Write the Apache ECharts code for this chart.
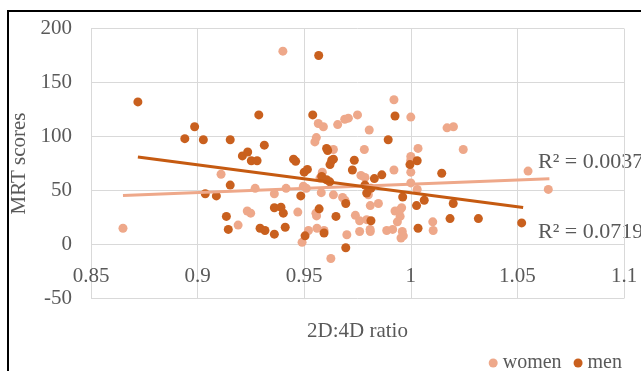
<!DOCTYPE html>
<html>
<head>
<meta charset="utf-8">
<script src="https://cdn.jsdelivr.net/npm/echarts@6/dist/echarts.min.js"></script>
<style>
  html, body { margin: 0; padding: 0; background: #fff; }
  #chart { width: 641px; height: 371px; }
</style>
</head>
<body>
<div id="chart"></div>
<script>
// values
const womenX = [0.865, 0.911, 0.919, 0.940, 0.9566, 0.955, 0.9557, 0.927, 0.936, 0.9415,
  0.951, 0.9233, 0.9249, 0.947, 0.949, 0.952, 0.956, 0.959, 0.9657, 0.969,
  0.9707, 0.975, 0.9805, 0.9782, 0.9637, 0.9766, 0.9785, 0.9585, 0.958, 0.9637,
  0.968, 0.9848, 0.981, 0.974, 0.976, 0.9593, 0.970, 0.976, 0.981, 0.9887,
  0.9625, 0.9921, 1.0, 1.017, 1.020, 1.0246, 1.0034, 1.0, 1.0, 0.9921,
  1.0, 1.0, 1.003, 0.9926, 0.9957, 0.995, 0.9937, 1.0103, 1.0105, 0.9915,
  0.996, 0.9965, 1.055, 1.0645, 0.9954, 0.9574, 0.9496, 0.9691, 0.9555, 0.9558,
  0.9793, 0.9809, 0.9801, 0.9949]
const womenY = [15, 65, 18, 179, 112, 95, 99, 52, 47, 52,
  52, 31, 29, 30, 2, 13, 15, 109, 111, 116,
  117, 120, 106, 88, 88, 64, 62, 67, 48, 46,
  43.5, 38, 36, 27, 22, 13, 9, 12, 12, 13,
  -13, 134, 118, 108, 109, 88, 89, 81.5, 78, 69,
  67, 57, 51, 31, 34, 26, 21, 21, 13, 14,
  12, 8, 68, 51, 6, 61.5, 54, 41, 29, 26.5,
  23, 14, 46, 32]

const menX = [0.872, 0.8986, 0.894, 0.9027, 0.9153, 0.921, 0.9235, 0.9252, 0.9279, 0.9153,
  0.9036, 0.9088, 0.9135, 0.9144, 0.9568, 0.9287, 0.9313, 0.945, 0.946, 0.950,
  0.9515, 0.954, 0.9484, 0.9293, 0.9316, 0.936, 0.936, 0.9391, 0.9402, 0.9411,
  0.9504, 0.957, 0.9894, 0.961, 0.9629, 0.9621, 0.9735, 0.9726, 0.9829, 0.9864,
  0.9582, 0.9605, 0.962, 0.9793, 0.9785, 0.9695, 0.9649, 0.9813, 0.9593, 0.9695,
  0.9926, 1.003, 0.9996, 1.0145, 0.9962, 1.0063, 1.0027, 1.0199, 1.0184, 1.0034,
  1.0317, 1.052, 0.9605, 0.9813, 0.9637]
const menY = [132, 109, 98, 97, 97, 82, 85.6, 77.5, 77.5, 55,
  47, 45, 26, 14, 175, 120, 92, 79, 77, 67,
  69.5, 120, 45, 15, 13, 9.6, 34, 34.6, 29, 16,
  8, 33, 97, 87, 78, 74, 78, 69, 61, 64.5,
  63, 60, 58, 47.6, 55, 38, 26, 22, 10.6, -3,
  119, 77.5, 74, 66, 44, 41, 36, 38, 24, 15,
  24, 20, 89, 52, 79]

// trendline end points (as drawn in the picture)
const womenTrendX = [0.865, 1.065]
const womenTrendY = [45.4, 60.8]
const menTrendX = [0.872, 1.0527]
const menTrendY = [81, 34.3]

const womenR2 = 'R² = 0.0037'
const menR2 = 'R² = 0.0719'

const pairs = (xs, ys) => xs.map((x, i) => [x, ys[i]])

const womenColor = '#EEA88A'
const menColor = '#C9601E'
const textColor = '#595959'
const font = 'Liberation Serif'

const chart = echarts.init(document.getElementById('chart'), null, { renderer: 'canvas' })

chart.setOption({
  animation: false,
  backgroundColor: '#fff',
  textStyle: { fontFamily: font },
  grid: { left: 91, right: 17, top: 28.5, bottom: 72.5, outerBoundsMode: 'none' },
  xAxis: {
    type: 'value',
    min: 0.85,
    max: 1.1,
    interval: 0.05,
    // the axis sits on y = 0, one band above the bottom edge
    offset: -54,
    name: '2D:4D ratio',
    nameLocation: 'middle',
    nameGap: 76,
    nameTextStyle: { fontFamily: font, fontSize: 21, color: textColor },
    axisLine: { show: false },
    axisTick: { show: false },
    axisLabel: {
      margin: 21,
      fontFamily: font,
      fontSize: 21,
      color: textColor,
      formatter: (v) => String(+v.toFixed(2))
    },
    splitLine: { show: true, lineStyle: { color: '#D9D9D9', width: 1 } }
  },
  yAxis: {
    type: 'value',
    min: -50,
    max: 200,
    interval: 50,
    name: 'MRT scores',
    nameLocation: 'middle',
    nameGap: 56,
    nameTextStyle: { fontFamily: font, fontSize: 21, color: textColor },
    axisLine: { show: false },
    axisTick: { show: false },
    axisLabel: { margin: 19, fontFamily: font, fontSize: 21, color: textColor },
    splitLine: { show: true, lineStyle: { color: '#D9D9D9', width: 1 } }
  },
  legend: {
    right: 14,
    top: 348,
    icon: 'circle',
    itemWidth: 9,
    itemHeight: 9,
    itemGap: 12,
    textStyle: { fontFamily: font, fontSize: 20, color: textColor },
    data: ['women', 'men']
  },
  series: [
    {
      name: 'women',
      type: 'scatter',
      symbolSize: 9,
      itemStyle: { color: womenColor, opacity: 1 },
      data: pairs(womenX, womenY),
      z: 2
    },
    {
      name: 'men',
      type: 'scatter',
      symbolSize: 9,
      itemStyle: { color: menColor, opacity: 1 },
      data: pairs(menX, menY),
      z: 3
    },
    {
      name: 'women trend',
      type: 'line',
      showSymbol: false,
      silent: true,
      lineStyle: { color: womenColor, width: 3 },
      data: pairs(womenTrendX, womenTrendY),
      z: 4
    },
    {
      name: 'men trend',
      type: 'line',
      showSymbol: false,
      silent: true,
      lineStyle: { color: '#C55A11', width: 3 },
      data: pairs(menTrendX, menTrendY),
      z: 5
    }
  ],
  graphic: [
    {
      type: 'rect',
      shape: { x: 8, y: 11, width: 660, height: 400 },
      style: { fill: null, stroke: '#000', lineWidth: 2 },
      silent: true
    },
    {
      type: 'text',
      left: 538,
      top: 151,
      style: { text: womenR2, font: '22px "Liberation Serif"', fill: textColor }
    },
    {
      type: 'text',
      left: 538,
      top: 221,
      style: { text: menR2, font: '22px "Liberation Serif"', fill: textColor }
    }
  ]
})
</script>
</body>
</html>
